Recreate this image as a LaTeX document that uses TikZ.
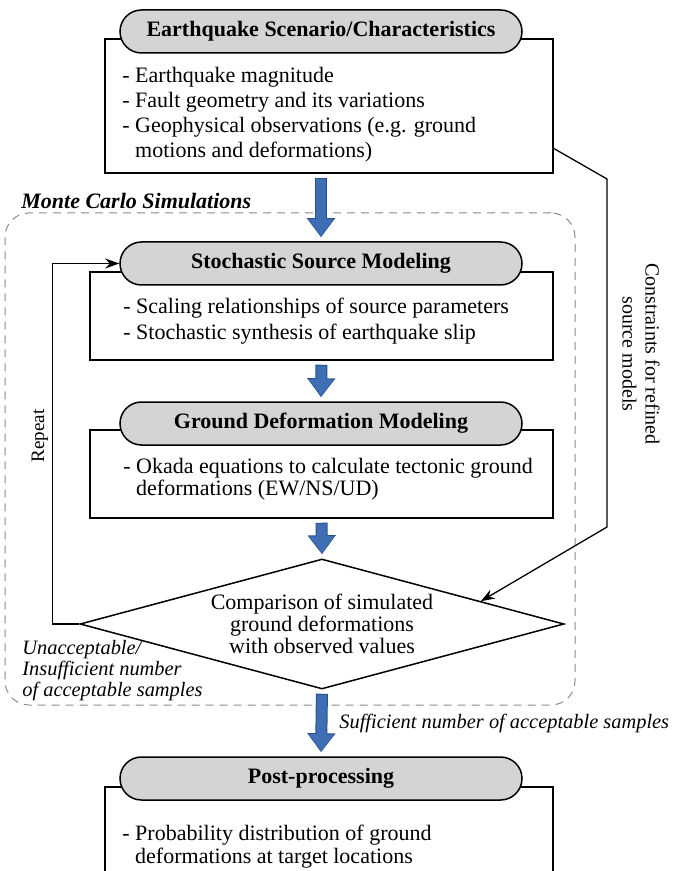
\documentclass[tikz,border=0pt]{standalone}
\usepackage{fontspec}
\setmainfont{Liberation Serif}
\usetikzlibrary{shapes.misc,shapes.geometric,arrows.meta,calc}
\definecolor{capgray}{RGB}{212,212,212}
\definecolor{arrowblue}{RGB}{62,110,180}
\definecolor{arrowdark}{RGB}{40,78,140}
\definecolor{framegray}{RGB}{140,140,140}

\begin{document}
\begin{tikzpicture}[
  x=0.5pt, y=-0.5pt,
  header/.style={rounded rectangle, draw, line width=0.75pt, fill=capgray,
    minimum width=201pt, minimum height=21.5pt, inner sep=0,
    font=\fontsize{11}{13}\selectfont\bfseries},
  panel/.style={draw, line width=0.75pt, inner sep=0},
  body/.style={align=left, inner sep=0, font=\fontsize{11}{12.5}\selectfont},
  decision/.style={diamond, draw, line width=0.75pt, aspect=3.7, inner sep=0,
    minimum width=242pt, minimum height=65pt, align=center,
    font=\fontsize{11}{11}\selectfont},
  frame/.style={draw=framegray, line width=0.5pt, dash pattern=on 4pt off 3pt,
    rounded corners=12pt, inner sep=0},
  flow/.style={draw, line width=0.65pt, -{Stealth[length=7pt,width=5pt]}},
  bigarrow/.style={draw=arrowblue, line width=5pt,
    -{Triangle[length=8.5pt,width=12pt]}, shorten <=2.5pt, shorten >=2.5pt,
    preaction={draw=arrowdark, line width=6pt,
      -{Triangle[length=9.5pt,width=13.5pt]}, shorten <=2pt, shorten >=2pt}},
  note/.style={inner sep=0, font=\fontsize{10.2}{10.5}\selectfont\itshape}
]
\useasboundingbox (0,0) rectangle (683,871);

% Monte Carlo frame
\node[frame, minimum width=285pt, minimum height=246pt] (mc) at (290,459) {};
\node[anchor=west, inner sep=0, font=\fontsize{11}{13}\selectfont\bfseries\itshape] (mclabel) at (21,201) {Monte Carlo Simulations};

% scenario
\node[panel, minimum width=224pt, minimum height=67pt] (box1) at (329,106) {};
\node[header] (hdr1) at (321,31.5) {Earthquake Scenario/Characteristics};
\node[body, anchor=west] (txt1) at (122,114.5) {- Earthquake magnitude\\- Fault geometry and its variations\\- Geophysical observations (e.g. ground\\\hphantom{-}\ motions and deformations)};

% source modeling
\node[panel, minimum width=231.5pt, minimum height=44pt] (box2) at (321.5,316) {};
\node[header] (hdr2) at (321,263.5) {Stochastic Source Modeling};
\node[body, anchor=west, font=\fontsize{11}{13}\selectfont] (txt2) at (123,321) {- Scaling relationships of source parameters\\- Stochastic synthesis of earthquake slip};

% deformation modeling
\node[panel, minimum width=231.5pt, minimum height=44pt] (box3) at (321.5,474) {};
\node[header] (hdr3) at (321,423.5) {Ground Deformation Modeling};
\node[body, anchor=west, font=\fontsize{11}{11.2}\selectfont] (txt3) at (123,479) {- Okada equations to calculate tectonic ground\\\hphantom{-}\ deformations (EW/NS/UD)};

% comparison
\node[decision] (cmp) at (322,624) {Comparison of simulated\\ground deformations\\with observed values};

% post-processing
\node[panel, minimum width=224pt, minimum height=56.5pt] (box4) at (329,843.5) {};
\node[header] (hdr4) at (321,778.5) {Post-processing};
\node[body, anchor=west, font=\fontsize{11}{11.5}\selectfont] (txt4) at (122,846.5) {- Probability distribution of ground\\\hphantom{-}\ deformations at target locations};

% main flow
\draw[bigarrow] (hdr2.north |- box1.south) -- (hdr2.north);
\draw[bigarrow] (box2.south) -- (hdr3.north);
\draw[bigarrow] (box3.south) -- (cmp.north);
\draw[bigarrow] (cmp.south) -- (hdr4.north);

% repeat loop
\draw[flow] (cmp.west) -- ++(-27,0) |- (hdr2.west);
\node[rotate=90, inner sep=0, font=\fontsize{9.5}{10}\selectfont] (rep) at (40,436) {Repeat};
\node[note, anchor=west, align=left] (unacc) at (22,671) {Unacceptable/\\Insufficient number\\of acceptable samples};
\node[note, anchor=west] (suff) at (339,723) {Sufficient number of acceptable samples};

% constraints
\coordinate (cstart) at (553,148);
\coordinate (cend) at ($(cmp.north)!0.654!(cmp.east)$);
\draw[flow] (cstart) -- (607,179) -- (607,527) -- (cend);
\node[rotate=-90, align=center, inner sep=0, font=\fontsize{10}{11.5}\selectfont] (cnote) at (641,354) {Constraints for refined\\source models};
\end{tikzpicture}
\end{document}
